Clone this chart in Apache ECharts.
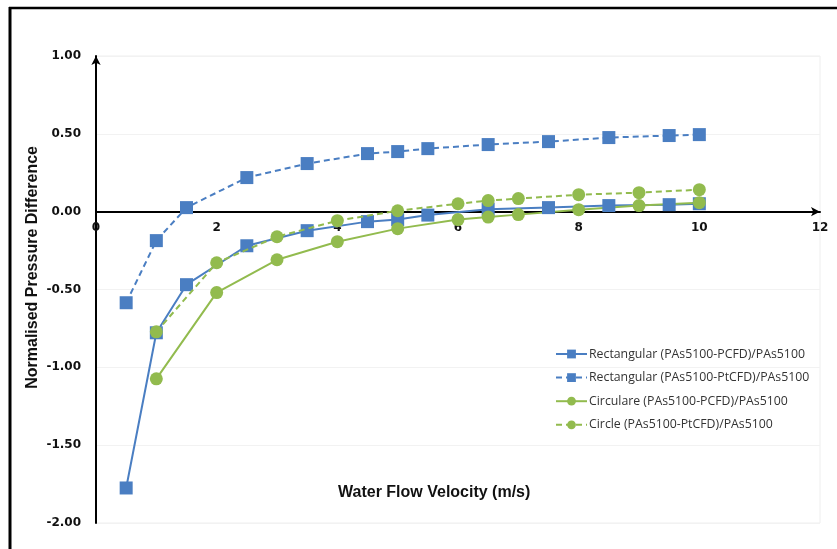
<!DOCTYPE html>
<html>
<head>
<meta charset="utf-8">
<script src="https://cdn.jsdelivr.net/npm/echarts@6/dist/echarts.min.js"></script>
<style>
  html, body { margin: 0; padding: 0; background: #fff; }
  #chart { width: 837px; height: 549px; }
</style>
</head>
<body>
<div id="chart"></div>
<script>
// Normalised pressure difference vs. water flow velocity
const rectVelocity = [0.5, 1, 1.5, 2.5, 3.5, 4.5, 5, 5.5, 6.5, 7.5, 8.5, 9.5, 10];
const rectPCFD  = [-1.775, -0.778, -0.469, -0.219, -0.122, -0.064, -0.051, -0.022, 0.016, 0.026, 0.039, 0.045, 0.051];
const rectPtCFD = [-0.585, -0.186, 0.026, 0.219, 0.309, 0.373, 0.386, 0.405, 0.431, 0.450, 0.476, 0.489, 0.495];

const circVelocity = [1, 2, 3, 4, 5, 6, 6.5, 7, 8, 9, 10];
const circPCFD  = [-1.074, -0.520, -0.309, -0.193, -0.109, -0.051, -0.035, -0.019, 0.013, 0.039, 0.058];
const circPtCFD = [-0.772, -0.328, -0.161, -0.058, 0.006, 0.051, 0.071, 0.084, 0.109, 0.122, 0.141];

const seriesNames = [
  'Rectangular (PAs5100-PCFD)/PAs5100',
  'Rectangular (PAs5100-PtCFD)/PAs5100',
  'Circulare (PAs5100-PCFD)/PAs5100',
  'Circle (PAs5100-PtCFD)/PAs5100'
];

const BLUE = '#4a7ec2';
const GREEN = '#92bb4e';

const Y_MIN = -2, Y_MAX = 1;
const GRID = { left: 96, right: 17, top: 56, bottom: 26 };
const CHART_H = 549;

// place the horizontal axis on the y = 0 line (labels included)
const plotH = CHART_H - GRID.top - GRID.bottom;
const zeroOffset = -plotH * (0 - Y_MIN) / (Y_MAX - Y_MIN);

const pairs = (xs, ys) => xs.map((x, i) => [x, ys[i]]);

function makeSeries(name, xs, ys, color, symbol, dashed) {
  return {
    name: name,
    type: 'line',
    data: pairs(xs, ys),
    symbol: symbol,
    symbolSize: 13,
    itemStyle: { color: color },
    lineStyle: { color: color, width: 2, type: dashed ? [6, 4] : 'solid' },
    z: dashed ? 3 : 2
  };
}

const tickFont = '"DejaVu Sans", Verdana, sans-serif';
const titleFont = 'bold 16px "Liberation Sans", Arial, sans-serif';

const chart = echarts.init(document.getElementById('chart'));
chart.setOption({
  animation: false,
  backgroundColor: '#fff',
  grid: Object.assign({ show: true, borderColor: '#eeeeee', borderWidth: 1 }, GRID),
  graphic: [
    { type: 'line', shape: { x1: 10, y1: 7, x2: 10, y2: 549 }, style: { stroke: '#000', lineWidth: 3 } },
    { type: 'line', shape: { x1: 9, y1: 8, x2: 837, y2: 8 }, style: { stroke: '#000', lineWidth: 2.5 } },
    { type: 'text', left: 338, top: 485, style: { text: 'Water Flow Velocity (m/s)', font: titleFont, fill: '#111' } },
    { type: 'text', left: 25, top: 146, rotation: Math.PI / 2,
      style: { text: 'Normalised Pressure Difference', font: titleFont, fill: '#111' } }
  ],
  legend: {
    orient: 'vertical',
    left: 550,
    top: 343,
    itemGap: 11.6,
    itemWidth: 31,
    itemHeight: 11,
    textStyle: { fontFamily: '"Open Sans", "Liberation Sans", sans-serif', fontSize: 12.3, color: '#333', padding: [0, 0, 0, -3] },
    data: seriesNames
  },
  xAxis: {
    type: 'value',
    min: 0, max: 12, interval: 2,
    offset: zeroOffset,
    axisLine: { onZero: false, symbol: ['none', 'arrow'], symbolSize: [7, 9], lineStyle: { color: '#000', width: 2 } },
    axisTick: { show: false },
    splitLine: { show: false },
    axisLabel: { margin: 10, color: '#111', fontWeight: 'bold', fontSize: 12, fontFamily: tickFont }
  },
  yAxis: {
    type: 'value',
    min: Y_MIN, max: Y_MAX, interval: 0.5,
    axisLine: { show: true, onZero: false, symbol: ['none', 'arrow'], symbolSize: [7, 9], lineStyle: { color: '#000', width: 2 } },
    axisTick: { show: false },
    splitLine: { show: true, lineStyle: { color: '#f2f2f2', width: 1 } },
    axisLabel: { margin: 15, color: '#111', fontWeight: 'bold', fontSize: 12, fontFamily: tickFont,
      formatter: v => v.toFixed(2) }
  },
  series: [
    makeSeries(seriesNames[0], rectVelocity, rectPCFD, BLUE, 'rect', false),
    makeSeries(seriesNames[1], rectVelocity, rectPtCFD, BLUE, 'rect', true),
    makeSeries(seriesNames[2], circVelocity, circPCFD, GREEN, 'circle', false),
    makeSeries(seriesNames[3], circVelocity, circPtCFD, GREEN, 'circle', true)
  ]
});
</script>
</body>
</html>
